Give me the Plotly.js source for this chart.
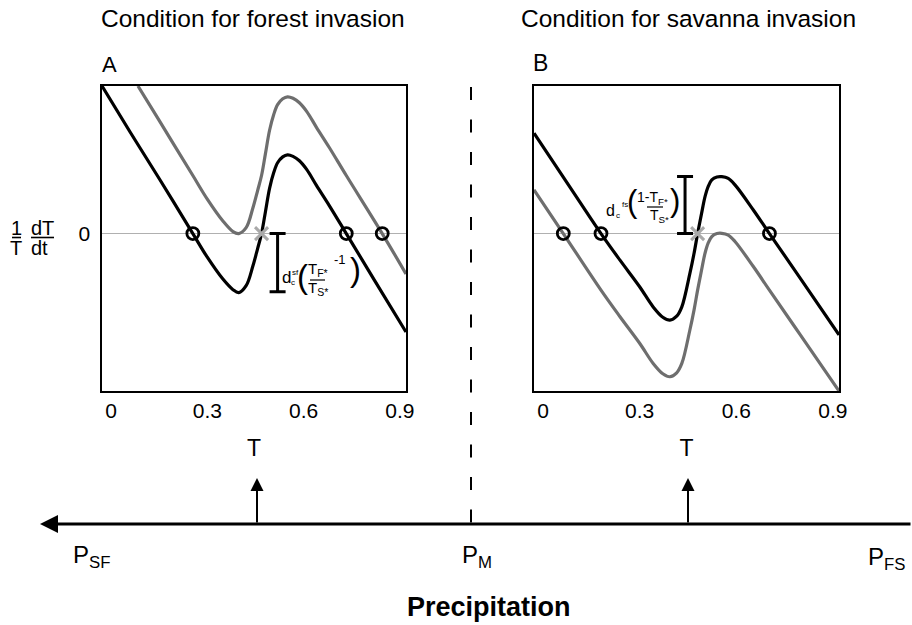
<!DOCTYPE html>
<html><head><meta charset="utf-8">
<script src="https://cdn.plot.ly/plotly-3.0.1.min.js"></script>
<style>html,body{margin:0;padding:0;background:#fff}#chart{width:912px;height:625px}</style>
</head><body><div id="chart"></div>
<script>
// ---------- data ----------
const tickVals = [0, 0.3, 0.6, 0.9];
const tickText = ['0', '0.3', '0.6', '0.9'];
const zeroTick = [0];

// Panel A (forest invasion)
const tA_black = [-0.028, 0.06, 0.15, 0.255, 0.30, 0.348, 0.380, 0.398, 0.421, 0.442, 0.457, 0.469, 0.481, 0.494, 0.507, 0.519, 0.535, 0.550, 0.567, 0.587, 0.610, 0.640, 0.680, 0.733, 0.82, 0.919];
const yA_black = [1.5, 1.03, 0.56, 0.0, -0.24, -0.46, -0.57, -0.60, -0.53, -0.33, -0.15, 0.0, 0.22, 0.46, 0.62, 0.72, 0.78, 0.80, 0.785, 0.74, 0.65, 0.49, 0.285, 0.0, -0.47, -1.0];
const tA_gray = [0.084, 0.15, 0.255, 0.30, 0.348, 0.380, 0.398, 0.421, 0.442, 0.457, 0.469, 0.481, 0.494, 0.507, 0.519, 0.535, 0.550, 0.567, 0.587, 0.610, 0.640, 0.680, 0.733, 0.845, 0.919];
const yA_gray = [1.5, 1.15, 0.59, 0.35, 0.13, 0.02, 0.0, 0.06, 0.26, 0.44, 0.59, 0.81, 1.05, 1.21, 1.31, 1.37, 1.39, 1.375, 1.33, 1.24, 1.08, 0.875, 0.59, 0.0, -0.41];
const eqA_T = [0.255, 0.733, 0.845];
const eqA_Y = [0, 0, 0];
const unstA_T = [0.469];
const unstA_Y = [0];
const gapA_T = [0.519];
const gapA_base = [0];
const gapA_len = [0.59];

// Panel B (savanna invasion)
const tB_black = [-0.028, 0.08, 0.180, 0.239, 0.300, 0.342, 0.372, 0.394, 0.415, 0.431, 0.456, 0.469, 0.480, 0.492, 0.503, 0.513, 0.524, 0.540, 0.555, 0.575, 0.596, 0.653, 0.703, 0.80, 0.919];
const yB_black = [1.02, 0.49, 0.0, -0.27, -0.54, -0.745, -0.85, -0.88, -0.84, -0.745, -0.405, -0.20, 0.0, 0.20, 0.375, 0.48, 0.545, 0.575, 0.578, 0.56, 0.495, 0.24, 0.0, -0.46, -1.03];
const tB_gray = [-0.028, 0.063, 0.180, 0.239, 0.300, 0.342, 0.372, 0.394, 0.415, 0.431, 0.456, 0.469, 0.480, 0.492, 0.503, 0.513, 0.524, 0.540, 0.555, 0.575, 0.596, 0.653, 0.703, 0.80, 0.919];
const yB_gray = [0.445, 0.0, -0.575, -0.845, -1.115, -1.32, -1.425, -1.455, -1.415, -1.32, -0.98, -0.775, -0.575, -0.375, -0.20, -0.095, -0.03, 0.0, 0.003, -0.015, -0.08, -0.335, -0.575, -1.035, -1.6];
const eqB_T = [0.063, 0.180, 0.703];
const eqB_Y = [0, 0, 0];
const unstB_T = [0.480];
const unstB_Y = [0];
const gapB_T = [0.441];
const gapB_base = [0];
const gapB_len = [0.58];

const panelTitles = ['Condition for forest invasion', 'Condition for savanna invasion'];
const panelLetters = ['A', 'B'];
const xTitle = 'T';
const precipLabels = ['P<sub>SF</sub>', 'P<sub>M</sub>', 'P<sub>FS</sub>'];
const precipTitle = '<b>Precipitation</b>';

// ---------- drawing ----------
const W = 912, H = 625;
const X = px => px / W;
const Y = py => 1 - py / H;
const FONT = 'Liberation Sans, Arial, Helvetica, sans-serif';
const NARROW = 'Liberation Sans Narrow, Liberation Sans, Arial, sans-serif';
const BLACK = '#000000', GRAY = '#6e6e6e', LIGHT = '#b0b0b0', XCOL = '#a9a9a9';

function curve(x, y, color, xa, ya) {
  return {x, y, xaxis: xa, yaxis: ya, mode: 'lines', type: 'scatter', hoverinfo: 'skip',
    line: {color, width: 3.2, shape: 'spline', smoothing: 1}};
}
function circles(x, y, xa, ya) {
  return {x, y, xaxis: xa, yaxis: ya, mode: 'markers', type: 'scatter', hoverinfo: 'skip',
    marker: {symbol: 'circle-open', size: 12, color: BLACK, line: {width: 2.8, color: BLACK}}};
}
function cross(x, y, xa, ya) {
  return {x, y, xaxis: xa, yaxis: ya, mode: 'markers', type: 'scatter', hoverinfo: 'skip',
    marker: {symbol: 'x-thin-open', size: 13, color: XCOL, line: {width: 3, color: XCOL}}};
}
function gap(x, y, up, down, xa, ya) {
  return {x, y, xaxis: xa, yaxis: ya, mode: 'markers', type: 'scatter', hoverinfo: 'skip',
    marker: {size: 1, color: 'rgba(0,0,0,0)'},
    error_y: {type: 'data', symmetric: false, array: up, arrayminus: down, width: 8, thickness: 3, color: BLACK}};
}

const data = [
  curve(tA_gray, yA_gray, GRAY, 'x', 'y'),
  curve(tA_black, yA_black, BLACK, 'x', 'y'),
  curve(tB_gray, yB_gray, GRAY, 'x2', 'y2'),
  curve(tB_black, yB_black, BLACK, 'x2', 'y2'),
  gap(gapA_T, gapA_base, [0], gapA_len, 'x', 'y'),
  gap(gapB_T, gapB_base, gapB_len, [0], 'x2', 'y2'),
  circles(eqA_T, eqA_Y, 'x', 'y'),
  circles(eqB_T, eqB_Y, 'x2', 'y2'),
  cross(unstA_T, unstA_Y, 'x', 'y'),
  cross(unstB_T, unstB_Y, 'x2', 'y2')
];

function xaxisDef(l, r, anchor) {
  return {domain: [X(l), X(r)], range: [-0.028, 0.919], anchor,
    tickmode: 'array', tickvals: tickVals, ticktext: tickText, ticks: '',
    tickfont: {size: 21, family: FONT, color: BLACK},
    showline: true, mirror: true, linecolor: BLACK, linewidth: 1.6,
    showgrid: false, zeroline: false, fixedrange: true,
    title: {text: xTitle, font: {size: 23, family: FONT, color: BLACK}, standoff: 19}};
}
function yaxisDef(anchor, labels) {
  return {domain: [Y(391), Y(86)], range: [-1.6, 1.5], anchor,
    tickmode: 'array', tickvals: zeroTick, ticktext: ['0'], showticklabels: labels, ticks: '',
    ticklabelstandoff: 6,
    tickfont: {size: 21, family: FONT, color: BLACK},
    showline: true, mirror: true, linecolor: BLACK, linewidth: 1.6,
    showgrid: false, zeroline: true, zerolinecolor: LIGHT, zerolinewidth: 1.8, fixedrange: true};
}

function txt(text, px, py, size, extra) {
  return Object.assign({text, x: X(px), y: Y(py), xref: 'paper', yref: 'paper', showarrow: false,
    xanchor: 'center', yanchor: 'middle', font: {size, family: FONT, color: BLACK}}, extra || {});
}
function arrow(px, py, ax, ay, width, size) {
  return {text: '', x: X(px), y: Y(py), xref: 'paper', yref: 'paper', showarrow: true,
    ax, ay, axref: 'pixel', ayref: 'pixel', arrowhead: 2, arrowsize: size, arrowwidth: width,
    arrowcolor: BLACK, standoff: 0, startstandoff: 0};
}
const nar = s => ({borderpad: 0, font: {size: s, family: NARROW, color: BLACK}});

const annotations = [
  txt(panelTitles[0], 252.5, 18.5, 24.5),
  txt(panelTitles[1], 688.5, 18.5, 24.5),
  txt(panelLetters[0], 100, 64, 22, {xanchor: 'left'}),
  txt(panelLetters[1], 531, 63, 23, {xanchor: 'left'}),
  // y label 1/T dT/dt
  txt('1', 16.5, 228.5, 20), txt('T', 16, 248.5, 20),
  txt('dT', 42.5, 228.5, 20), txt('dt', 39.5, 248.5, 20),
  // formula A
  txt('d', 286, 277.5, 17, {borderpad: 0}), txt('c', 292.5, 282, 8, {borderpad: 0}), txt('sf', 295.5, 272.5, 8, {borderpad: 0}),
  txt('(', 302.5, 276, 33, nar(33)),
  txt('T<sub>F*</sub>', 317.5, 270, 15, nar(15)),
  txt('T<sub>S*</sub>', 317.5, 288, 15, nar(15)),
  txt('-1', 339.5, 260, 13, nar(13)),
  txt(')', 355, 270, 33, nar(33)),
  // formula B
  txt('d', 610.5, 210, 16, {borderpad: 0}), txt('c', 618, 215.5, 8, {borderpad: 0}), txt('fs', 625, 204, 8, {borderpad: 0}),
  txt('(', 632, 202, 31, nar(31)),
  txt('1-T<sub>F*</sub>', 652, 198, 14, nar(14)),
  txt('T<sub>S*</sub>', 659, 216, 14, nar(14)),
  txt(')', 674.5, 200, 31, nar(31)),
  // precipitation axis
  arrow(40, 524, 872, 0, 3, 1.2),
  arrow(257, 478, 0, 46, 2, 1.3),
  arrow(688, 478, 0, 46, 2, 1.3),
  txt(precipLabels[0], 71, 556, 24, {xanchor: 'left'}),
  txt(precipLabels[1], 460, 556, 24, {xanchor: 'left'}),
  txt(precipLabels[2], 866, 558, 24, {xanchor: 'left'}),
  txt(precipTitle, 489, 607, 27)
];

const line = (x0, y0, x1, y1, w, dash) => ({type: 'line', xref: 'paper', yref: 'paper',
  x0: X(x0), y0: Y(y0), x1: X(x1), y1: Y(y1), line: {color: BLACK, width: w, dash: dash || 'solid'}});
const shapes = [
  line(471, 87, 471, 524, 2, '13px,19.5px'),
  line(12, 237.5, 21, 237.5, 1.6), line(31, 237.5, 54, 237.5, 1.6),
  line(310, 280, 325, 280, 1.2),
  line(647, 207, 663, 207, 1.2)
];

const layout = {
  width: W, height: H, margin: {l: 0, r: 0, t: 0, b: 0},
  paper_bgcolor: '#ffffff', plot_bgcolor: '#ffffff', showlegend: false,
  font: {family: FONT, color: BLACK},
  xaxis: xaxisDef(102, 406, 'y'), yaxis: yaxisDef('x', true),
  xaxis2: xaxisDef(534, 839, 'y2'), yaxis2: yaxisDef('x2', false),
  annotations, shapes
};
Plotly.newPlot('chart', data, layout, {displayModeBar: false, staticPlot: true});
</script></body></html>
